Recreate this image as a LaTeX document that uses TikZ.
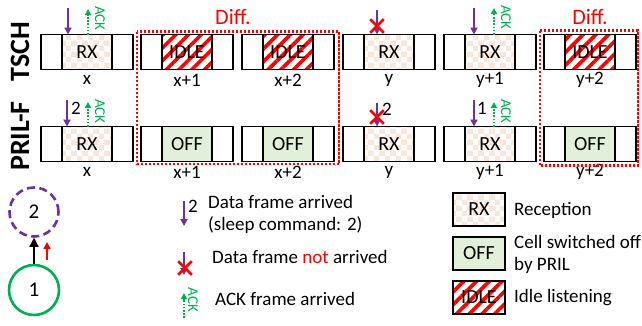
\documentclass[tikz,border=0pt]{standalone}
\usepackage{fontspec}
\setmainfont{Carlito}
\usetikzlibrary{arrows.meta, positioning, patterns.meta, shapes.misc}

\definecolor{rxpeach}{RGB}{251,229,214}
\definecolor{offgreen}{RGB}{226,240,217}
\definecolor{ackgreen}{RGB}{0,176,80}
\definecolor{datapurple}{RGB}{112,48,160}

\tikzdeclarepattern{
  name=rxcheck,
  type=colored,
  bottom left={(0pt,0pt)},
  top right={(11pt,11pt)},
  tile size={(11pt,11pt)},
  code={
    \fill[rxpeach] (0pt,0pt) rectangle (5.5pt,5.5pt);
    \fill[rxpeach] (5.5pt,5.5pt) rectangle (11pt,11pt);
  }
}

\tikzset{
  cell/.style={draw, line width=1.2pt, minimum height=35pt, inner sep=0pt, outer sep=0pt, font=\fontsize{20}{20}\selectfont},
  side/.style={cell, minimum width=21pt},
  mid/.style={cell, minimum width=50pt},
  rx/.style={mid, pattern=rxcheck},
  off/.style={mid, fill=offgreen},
  idle/.style={mid, pattern={Lines[angle=45, distance=9pt, line width=3.6pt]}, pattern color=red},
  rowtitle/.style={font=\bfseries\fontsize{28}{28}\selectfont, rotate=90},
  difflab/.style={text=red, font=\fontsize{22}{22}\selectfont},
  diffbox/.style={draw=red, line width=2.2pt, dash pattern=on 2.2pt off 1.8pt},
  data/.style={draw=datapurple, line width=1.8pt, -{Triangle[length=7pt, width=7pt]}},
  ack/.style={draw=ackgreen, line width=1.6pt, dash pattern=on 1.6pt off 1.6pt, -{Triangle[length=6pt, width=6pt]}},
  acklab/.style={text=ackgreen, font=\fontsize{15}{15}\selectfont, rotate=-90, inner sep=0pt},
  lost/.style={cross out, draw=red, line width=2.6pt, minimum size=11pt, inner sep=0pt},
  legtext/.style={anchor=west, align=left, inner sep=0pt},
  node1/.style={circle, draw=ackgreen, line width=2.6pt, minimum size=50pt, inner sep=0pt, font=\fontsize{21}{21}\selectfont},
  node2/.style={circle, draw=datapurple, line width=2.6pt, dash pattern=on 8pt off 4.5pt, minimum size=49pt, inner sep=0pt, font=\fontsize{21}{21}\selectfont}
}

\begin{document}
\begin{tikzpicture}[x=1pt, y=-1pt, font=\fontsize{19}{22}\selectfont]
\path[use as bounding box, fill=white] (0,0) rectangle (642,325);

% Row titles
\node[rowtitle] (tsch) at (20,52) {TSCH};
\node[rowtitle] (pril) at (20,136) {PRIL-F};

% Slots of both schedules
\foreach \n/\x/\lab/\sT/\wT/\sP/\wP in {a/87/x/rx/RX/rx/RX, b/187/x+1/idle/IDLE/off/OFF,
    c/288/x+2/idle/IDLE/off/OFF, d/389/y/rx/RX/rx/RX, e/490/y+1/rx/RX/rx/RX, f/590/y+2/idle/IDLE/off/OFF} {
    \node[\sT] (t\n) at (\x,52) {\wT};
    \node[side, anchor=east] (t\n-l) at (t\n.west) {};
    \node[side, anchor=west] (t\n-r) at (t\n.east) {};
    \node (t\n-lab) at (\x,80) {\lab};
    \node[\sP] (p\n) at (\x,144) {\wP};
    \node[side, anchor=east] (p\n-l) at (p\n.west) {};
    \node[side, anchor=west] (p\n-r) at (p\n.east) {};
    \node (p\n-lab) at (\x,172) {\lab};
}

% Differences
\draw[diffbox] ([xshift=-4pt,yshift=3pt]tb-l.north west) rectangle ([xshift=5pt,yshift=-2.5pt]pc-r.south east);
\draw[diffbox] ([xshift=-4pt,yshift=4pt]tf-l.north west) rectangle ([xshift=2pt,yshift=-4pt]pf-r.south east);
\node[difflab] (diff1) at (233,17) {Diff.};
\node[difflab] (diff2) at (590,17) {Diff.};

% Data frames
\foreach \b/\dx/\dy in {ta/68/8, td/377/10, te/474/8, pa/67/100, pd/377/103, pe/474/100} {
    \coordinate (\b-in) at (\dx,\dy);
    \draw[data] (\b-in) -- (\b-in |- \b.north);
}
\node[lost] (td-x) at (377,26) {};
\node[lost] (pd-x) at (377,117) {};
\node (pa-cmd) at (76,108) {2};
\node (pd-cmd) at (387,109) {2};
\node (pe-cmd) at (482,108) {1};

% ACK frames
\foreach \b/\ax/\ay in {ta/88/9, te/494/8, pa/88/102, pe/494/102} {
    \coordinate (\b-ack) at (\ax,\ay);
    \draw[ack] (\b-ack |- \b.north) -- (\b-ack);
    \node[acklab] (\b-ackl) at ([xshift=12pt,yshift=-9.5pt]\b-ack) {ACK};
}

% Topology
\node[node2] (n2) at (34,212) {2};
\node[node1] (n1) at (34,290) {1};
\draw[line width=1.4pt, -{Triangle[length=9pt, width=9pt]}] (n1) -- (n2);
\coordinate (up-s) at (47,260);
\coordinate (up-e) at (47,242);
\draw[red, line width=1.6pt, -{Triangle[length=7pt, width=7pt]}] (up-s) -- (up-e);

% Legend: frames
\coordinate (lg-d1) at (184,201);
\coordinate (lg-d2) at (184,226);
\draw[data] (lg-d1) -- (lg-d2);
\node (lg-dn) at (193,206) {2};
\node[legtext] (lg-dt) at (208,214) {Data frame arrived\\(sleep command: 2)};

\coordinate (lg-x1) at (184,252);
\coordinate (lg-x2) at (184,275);
\draw[data] (lg-x1) -- (lg-x2);
\node[lost] (lg-x) at (185,268) {};
\node[legtext] (lg-xt) at (212,257) {Data frame \textcolor{red}{not} arrived};

\coordinate (lg-a1) at (184,318);
\coordinate (lg-a2) at (184,293);
\draw[ack] (lg-a1) -- (lg-a2);
\node[acklab] (lg-al) at (193,300) {ACK};
\node[legtext] (lg-at) at (215,299) {ACK frame arrived};

% Legend: cells
\node[rx, minimum width=52pt, minimum height=33pt] (lg-rx) at (479,209.5) {RX};
\node[off, minimum width=52pt, minimum height=33pt] (lg-off) at (479,253.5) {OFF};
\node[idle, minimum width=52pt, minimum height=33pt] (lg-idle) at (479,297.5) {IDLE};
\node[legtext] (lg-rxt) at (514,210) {Reception};
\node[legtext] (lg-offt) at (514,254) {Cell switched off\\by PRIL};
\node[legtext] (lg-idlet) at (514,298) {Idle listening};

\end{tikzpicture}
\end{document}
